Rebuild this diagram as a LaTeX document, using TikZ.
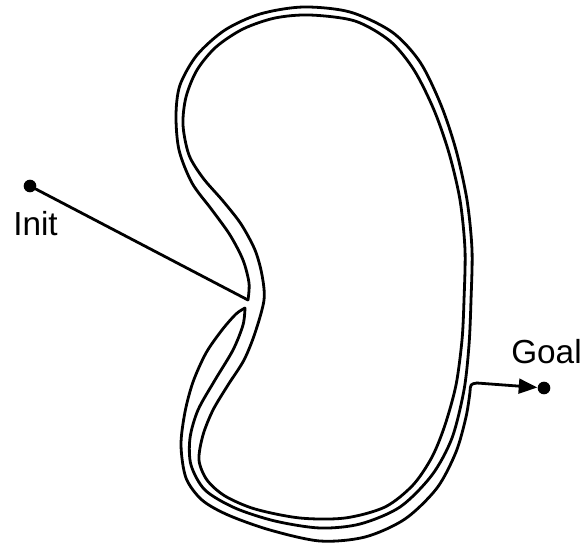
\documentclass[tikz,border=0pt]{standalone}
\usepackage{fontspec}
\setmainfont{Liberation Sans}
\usetikzlibrary{arrows.meta}
\begin{document}
\begin{tikzpicture}[x=0.75pt,y=-0.75pt,
  curve/.style={line width=2.1pt,line cap=round,line join=round},
  dot/.style={circle,fill=black,inner sep=0pt,minimum size=9.5pt},
  lbl/.style={inner sep=0pt,anchor=base west,font=\fontsize{25pt}{29pt}\selectfont}]
\useasboundingbox (0,0) rectangle (584,546);

% end points
\node[dot] (init) at (30,186) {};
\node[dot] (goal) at (544,388) {};
\node[lbl] (initlbl) at (13,235) {Init};
\node[lbl] (goallbl) at (511,363) {Goal};

% turning points of the route
\coordinate (tipA) at (248,300);
\coordinate (tipB) at (245,308);
\coordinate (exit) at (477,383);

% closed inner loop
\draw[curve] plot[smooth cycle] coordinates {
  (264,300) (262,275) (255,250) (241,224) (223,201) (203,178) (189,155)
  (183,125) (186,97) (197,70) (216,47) (243,29) (275,18) (310,15)
  (355,21) (390,41) (414,70) (434,110) (449,153) (460,200) (465,250)
  (464,300) (462,340) (456,385) (445,425) (432,457) (413,485)
  (385,507) (345,518) (300,518) (255,509) (225,496) (207,480) (199,460)
  (203,435) (213,410) (228,385) (244,360) (255,333)};

% route from the start into the notch
\draw[curve] (init) -- (tipA);

% first lap: outer arc over the top, middle arc along the bottom
\draw[curve] plot[smooth] coordinates {
  (tipA) (249,283) (243,260) (230,235) (212,210) (192,183) (179,150)
  (176,115) (180,85) (197,55) (225,30) (260,14) (303,7)
  (350,12) (392,32) (420,62) (441,105) (456,150) (467,200) (472,250)
  (471,300) (469,345) (464,390) (452,438) (432,475) (400,507)
  (360,524) (320,528) (275,521) (235,508) (205,490) (191,465)
  (190,438) (198,410) (215,380) (233,350) (243,325) (tipB)};

% second lap: outermost arc along the bottom up to the exit
\draw[curve] plot[smooth] coordinates {
  (tipB) (236,314) (222,330) (206,353) (193,382) (185,412) (181,445)
  (186,478) (202,500) (228,515) (270,530) (320,541) (365,537)
  (405,519) (437,488) (456,452) (466,417) (470,392)}
  .. controls (470.5,384) .. (exit);

% final leg to the goal
\draw[curve,-{Triangle[length=14pt,width=11pt]}] (exit) -- (goal);
\end{tikzpicture}
\end{document}
